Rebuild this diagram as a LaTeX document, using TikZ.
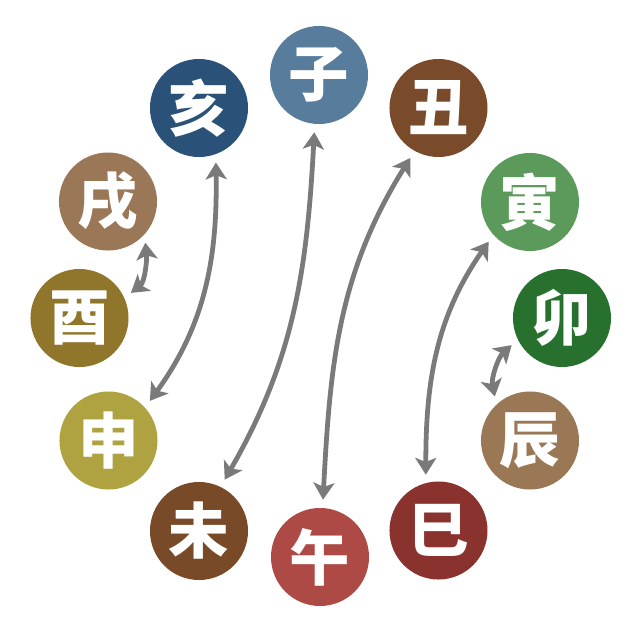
\documentclass[tikz,border=0pt]{standalone}
\usepackage{fontspec}
\newfontfamily\cjk{Noto Sans CJK SC}
\usetikzlibrary{arrows.meta}

\definecolor{cZi}{HTML}{587C9B}
\definecolor{cChou}{HTML}{7A4B2A}
\definecolor{cYin}{HTML}{5B9A5A}
\definecolor{cMao}{HTML}{28702E}
\definecolor{cChen}{HTML}{9A7755}
\definecolor{cSi}{HTML}{8A322D}
\definecolor{cWu}{HTML}{AE4A45}
\definecolor{cWei}{HTML}{784A27}
\definecolor{cShen}{HTML}{AEA241}
\definecolor{cYou}{HTML}{8F762A}
\definecolor{cXu}{HTML}{9A7756}
\definecolor{cHai}{HTML}{2A5178}

\begin{document}
\begin{tikzpicture}[x=0.025cm,y=0.025cm,
        branch/.style={circle,minimum size=2.45cm,inner sep=0,outer sep=0,fill=#1,text=white,
          font=\cjk\bfseries\fontsize{43pt}{43pt}\selectfont},
        link/.style={{Stealth[length=12pt,width=15pt,inset=3pt]}-{Stealth[length=12pt,width=15pt,inset=3pt]},
          line width=3.4pt,draw=black!52,shorten <=6pt,shorten >=6pt}]
        \useasboundingbox (-320,-322) rectangle (320,318);
        \node[branch=cZi]   (zi)   at (-1,243)      {子};
        \node[branch=cChou] (chou) at (118.5,210)   {丑};
        \node[branch=cYin]  (yin)  at (210,116)     {寅};
        \node[branch=cMao]  (mao)  at (242,0)       {卯};
        \node[branch=cChen] (chen) at (210,-122.5)  {辰};
        \node[branch=cSi]   (si)   at (118.5,-212.5){巳};
        \node[branch=cWu]   (wu)   at (0,-239)      {午};
        \node[branch=cWei]  (wei)  at (-121,-213)   {未};
        \node[branch=cShen] (shen) at (-211.5,-122.5){申};
        \node[branch=cYou]  (you)  at (-240.5,0)    {酉};
        \node[branch=cXu]   (xu)   at (-212,116.5)  {戌};
        \node[branch=cHai]  (hai)  at (-121,210)    {亥};
        \draw[link] (wei.64)   to[out=60,in=-93]   (zi.-95);
        \draw[link] (wu.87)    to[out=87,in=-122]  (chou.-119);
        \draw[link] (shen.42)  to[out=54,in=-89]   (hai.-70);
        \draw[link] (si.105)   to[out=90,in=-125]  (yin.-138);
        \draw[link] (you.24)   to[out=38,in=-84]   (xu.-42);
        \draw[link] (chen.133) to[out=102,in=-138] (mao.-154);
\end{tikzpicture}
\end{document}
